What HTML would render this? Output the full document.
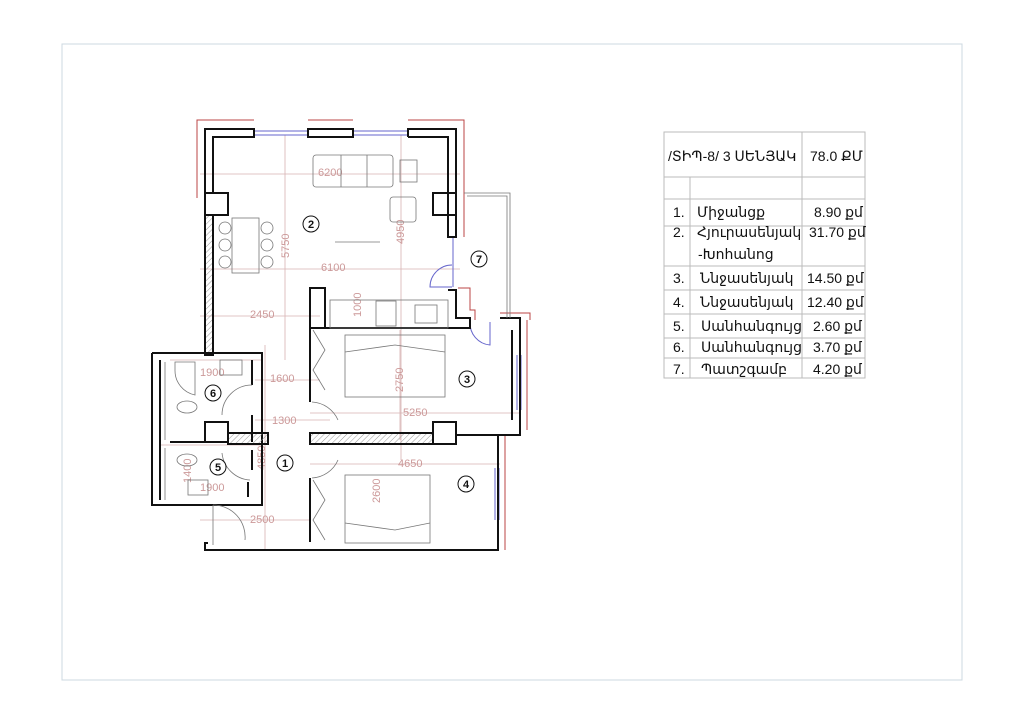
<!DOCTYPE html>
<html><head><meta charset="utf-8"><style>
body{margin:0;background:#fff;width:1024px;height:724px;overflow:hidden}
svg{display:block}
.w{fill:none;stroke:#111;stroke-width:2}
.r{fill:none;stroke:#b44;stroke-width:1}
.d{stroke:#d7b3b3;stroke-width:0.8;fill:none}
.dt{fill:#c99;font:11px "Liberation Sans",sans-serif}
.f{fill:none;stroke:#777;stroke-width:0.8}
.b{fill:none;stroke:#66c;stroke-width:1}
.c{fill:#fff;stroke:#111;stroke-width:1}
.n{font:bold 11px "Liberation Sans",sans-serif;fill:#111;text-anchor:middle}
.t{font:14px "Liberation Sans","DejaVu Sans",sans-serif;fill:#111}
.g{stroke:#bbb;stroke-width:1}
</style></head><body>
<svg width="1024" height="724" viewBox="0 0 1024 724" xmlns="http://www.w3.org/2000/svg">
<defs><pattern id="h" width="4" height="4" patternUnits="userSpaceOnUse" patternTransform="rotate(45)"><line x1="0" y1="0" x2="0" y2="4" stroke="#999" stroke-width="1"/></pattern></defs>
<rect x="62" y="44" width="900" height="636" fill="none" stroke="#cdd8e0" stroke-width="1"/>

<g class="d">
<line x1="200" y1="174" x2="460" y2="174"/><line x1="200" y1="269" x2="460" y2="269"/>
<line x1="200" y1="316" x2="320" y2="316"/><line x1="255" y1="380" x2="320" y2="380"/>
<line x1="255" y1="420" x2="330" y2="420"/><line x1="310" y1="413" x2="520" y2="413"/>
<line x1="310" y1="464" x2="500" y2="464"/><line x1="200" y1="520" x2="310" y2="520"/>
<line x1="285" y1="135" x2="285" y2="360"/><line x1="401" y1="135" x2="401" y2="460"/>
<line x1="265" y1="345" x2="265" y2="550"/><line x1="400" y1="330" x2="400" y2="440"/>
<line x1="170" y1="360" x2="262" y2="360"/><line x1="160" y1="445" x2="262" y2="445"/>
</g>
<g class="dt">
<text x="318" y="176">6200</text><text x="321" y="271">6100</text><text x="250" y="318">2450</text>
<text x="270" y="382">1600</text><text x="272" y="424">1300</text><text x="403" y="416">5250</text>
<text x="398" y="467">4650</text><text x="250" y="523">2500</text><text x="200" y="376">1900</text>
<text x="200" y="491">1900</text>
<text transform="translate(289,258) rotate(-90)">5750</text>
<text transform="translate(404,244) rotate(-90)">4950</text>
<text transform="translate(361,317) rotate(-90)">1000</text>
<text transform="translate(403,392) rotate(-90)">2750</text>
<text transform="translate(380,503) rotate(-90)">2600</text>
<text transform="translate(265,470) rotate(-90)">4850</text>
<text transform="translate(191,483) rotate(-90)">1400</text>
</g>

<g class="r">
<polyline points="197,198 197,120 254,120"/><polyline points="308,120 353,120"/><polyline points="408,120 464,120 464,237"/>
<polyline points="458,288 470,288 470,310 475,310 475,320"/>
<polyline points="500,313 530,313 530,320"/><line x1="527" y1="320" x2="527" y2="430"/>
<polyline points="520,435 505,435 505,550"/>
</g>
<g class="b"><line x1="254" y1="131" x2="308" y2="131"/><line x1="254" y1="135" x2="308" y2="135"/>
<line x1="353" y1="131" x2="408" y2="131"/><line x1="353" y1="135" x2="408" y2="135"/>
<line x1="453" y1="237" x2="453" y2="287"/><line x1="517" y1="355" x2="517" y2="410"/><line x1="521" y1="355" x2="521" y2="410"/>
<line x1="495" y1="468" x2="495" y2="520"/><line x1="499" y1="468" x2="499" y2="520"/>
<path d="M452 287 H430 A22 22 0 0 1 452 265"/><path d="M490 322 V345 A22 22 0 0 1 470 322"/>
</g>

<g class="w">
<polyline points="205,193 205,129 254,129 254,137 213,137 213,193"/>
<rect x="308" y="129" width="45" height="8"/>
<polyline points="408,137 408,129 456,129 456,237 448,237 448,137 408,137"/>
<rect x="205" y="193" width="23" height="22"/><rect x="433" y="193" width="23" height="22"/>
<rect x="205" y="215" width="8" height="140" fill="url(#h)"/>
<polyline points="448,290 456,290 456,318 470,318 470,328 310,328"/>
<rect x="310" y="288" width="15" height="40"/>
<polyline points="500,318 520,318 520,435 498,435 498,550 205,550 205,543 208,543"/>
<polyline points="512,330 512,420"/>
<line x1="498" y1="468" x2="498" y2="520"/>
<polyline points="310,328 310,402"/>
<polyline points="152,353 262,353 262,505 213,505"/>
<polyline points="152,353 152,505 213,505"/>
<line x1="160" y1="360" x2="160" y2="500"/>
<line x1="170" y1="442" x2="205" y2="442"/>
<rect x="205" y="422" width="23" height="20"/>
<rect x="228" y="433" width="40" height="11" fill="url(#h)"/>
<rect x="310" y="433" width="123" height="11" fill="url(#h)"/>
<rect x="433" y="422" width="23" height="22"/>
<line x1="456" y1="435" x2="498" y2="435"/>
<line x1="310" y1="478" x2="310" y2="542"/>
<line x1="252" y1="360" x2="252" y2="385"/><line x1="252" y1="415" x2="252" y2="442"/>
<line x1="252" y1="450" x2="252" y2="470"/><line x1="248" y1="482" x2="248" y2="497"/>
</g>
<g class="f">
<path d="M222 415 A30 30 0 0 1 252 385"/><path d="M222 453 A30 30 0 0 0 250 480"/>
<path d="M312 402 A30 30 0 0 1 338 420"/><path d="M312 478 A30 30 0 0 0 338 460"/>
<path d="M213 505 V545 M213 505 A32 32 0 0 1 245 540"/>
</g>
<g class="f">
<rect x="313" y="155" width="80" height="32" rx="3"/><line x1="341" y1="155" x2="341" y2="187"/><line x1="367" y1="155" x2="367" y2="187"/>
<rect x="400" y="160" width="17" height="22"/><rect x="390" y="197" width="26" height="25" rx="3"/>
<rect x="232" y="218" width="27" height="55"/>
<circle cx="225" cy="228" r="6"/><circle cx="225" cy="245" r="6"/><circle cx="225" cy="262" r="6"/>
<circle cx="267" cy="228" r="6"/><circle cx="267" cy="245" r="6"/><circle cx="267" cy="262" r="6"/>
<line x1="335" y1="242" x2="380" y2="242"/>
<rect x="330" y="300" width="118" height="28"/><rect x="376" y="301" width="20" height="25"/><rect x="415" y="305" width="22" height="18"/>
<rect x="345" y="335" width="100" height="62"/><polyline points="345,352 395,345 445,352"/>
<rect x="345" y="475" width="85" height="68"/><polyline points="345,523 395,530 430,523"/>
<polyline points="313,330 325,350 313,370 325,390"/><polyline points="313,480 325,500 313,520 325,540"/>
<path d="M175 362 H195 V395 A25 25 0 0 1 175 370 Z"/><rect x="220" y="360" width="22" height="15"/>
<ellipse cx="187" cy="407" rx="10" ry="6"/><ellipse cx="187" cy="460" rx="10" ry="6"/>
<rect x="188" y="480" width="20" height="15"/>
<line x1="165" y1="362" x2="165" y2="440"/><line x1="165" y1="448" x2="165" y2="500"/>
<polyline points="464,193 510,193 510,318"/><polyline points="467,196 507,196 507,318"/>
</g>
<g>
<circle class="c" cx="311" cy="224" r="8"/><text class="n" x="311" y="228">2</text>
<circle class="c" cx="479" cy="259" r="8"/><text class="n" x="479" y="263">7</text>
<circle class="c" cx="467" cy="379" r="8"/><text class="n" x="467" y="383">3</text>
<circle class="c" cx="213" cy="393" r="8"/><text class="n" x="213" y="397">6</text>
<circle class="c" cx="285" cy="463" r="8"/><text class="n" x="285" y="467">1</text>
<circle class="c" cx="218" cy="467" r="8"/><text class="n" x="218" y="471">5</text>
<circle class="c" cx="466" cy="484" r="8"/><text class="n" x="466" y="488">4</text>
</g>

<g class="g">
<rect x="664" y="132" width="201" height="246" fill="none"/>
<line x1="802" y1="132" x2="802" y2="378"/>
<line x1="664" y1="177" x2="865" y2="177"/><line x1="690" y1="177" x2="690" y2="378"/>
<line x1="664" y1="199" x2="865" y2="199"/><line x1="664" y1="226" x2="865" y2="226"/>
<line x1="664" y1="266" x2="865" y2="266"/><line x1="664" y1="290" x2="865" y2="290"/>
<line x1="664" y1="314" x2="865" y2="314"/><line x1="664" y1="338" x2="865" y2="338"/>
<line x1="664" y1="358" x2="865" y2="358"/>
</g>
<g class="t">
<text x="668" y="161">/ՏԻՊ-8/  3 ՍԵՆՅԱԿ</text><text x="810" y="161">78.0 ՔՄ</text>
<text x="673" y="217">1.</text><text x="697" y="217">Միջանցք</text><text x="814" y="217">8.90 քմ</text>
<text x="673" y="237">2.</text><text x="697" y="237">Հյուրասենյակ</text><text x="809" y="237">31.70 քմ</text>
<text x="698" y="259">-Խոհանոց</text>
<text x="673" y="283">3.</text><text x="700" y="283">Ննջասենյակ</text><text x="807" y="283">14.50 քմ</text>
<text x="673" y="307">4.</text><text x="700" y="307">Ննջասենյակ</text><text x="807" y="307">12.40 քմ</text>
<text x="673" y="331">5.</text><text x="701" y="331">Սանհանգույց</text><text x="813" y="331">2.60 քմ</text>
<text x="673" y="352">6.</text><text x="701" y="352">Սանհանգույց</text><text x="813" y="352">3.70 քմ</text>
<text x="673" y="374">7.</text><text x="701" y="374">Պատշգամբ</text><text x="813" y="374">4.20 քմ</text>
</g>
</svg>
</body></html>
